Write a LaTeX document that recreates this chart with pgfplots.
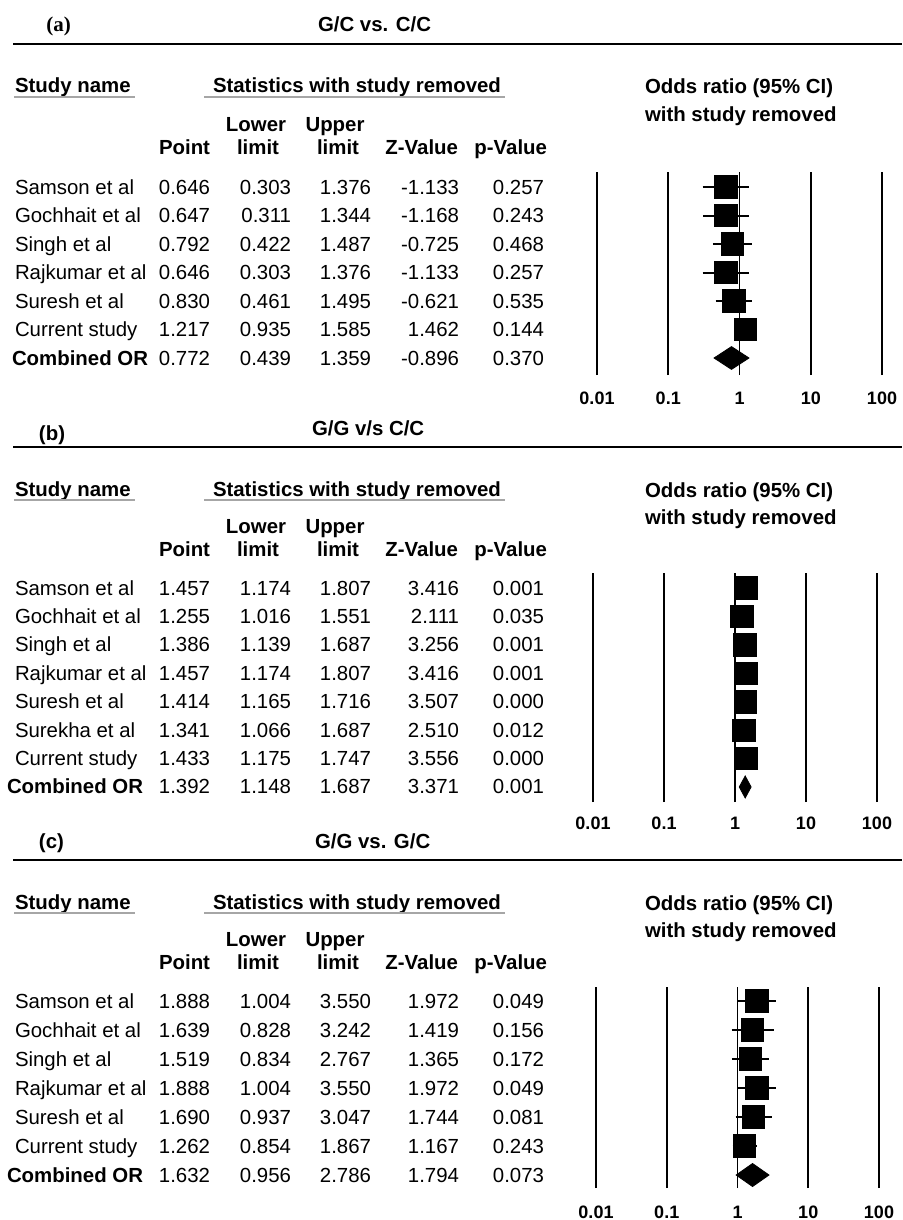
\documentclass[border=0pt]{standalone}
\usepackage{pgfplots}
\pgfplotsset{compat=1.18}
\usepackage{fontspec}
\setmainfont{Liberation Sans}
\newfontfamily\timesfont{Liberation Serif}
\newcommand\fs{\fontsize{10.2}{12}\selectfont}
\newcommand\tfs{\bfseries\fontsize{9}{10}\selectfont}
\tikzset{t/.style={inner sep=0pt, outer sep=0pt, font=\fs},
         tb/.style={inner sep=0pt, outer sep=0pt, font=\fs\bfseries}}
% y, xname, name, point, lower, upper, z, p
\newcommand\trow[8]{%
 \node[t,anchor=base west] at (#2,#1+7) {#3};
 \node[t,anchor=base east] at (210,#1+7) {#4};
 \node[t,anchor=base east] at (291,#1+7) {#5};
 \node[t,anchor=base east] at (371,#1+7) {#6};
 \node[t,anchor=base east] at (459,#1+7) {#7};
 \node[t,anchor=base east] at (544,#1+7) {#8};
}
% offset for rule/study-name line, offset for column headers
\newcommand\hdr[2]{%
 \draw[line width=1.2pt] (13,44+#1) -- (902,44+#1);
 \node[tb,anchor=base west] at (15,93+#1) {Study name};
 \draw[gray!70,line width=0.8pt] (14,97+#1) -- (135,97+#1);
 \node[tb,anchor=base west] at (213,93+#1) {Statistics with study removed};
 \draw[gray!70,line width=0.8pt] (204,97+#1) -- (505,97+#1);
 \node[tb,anchor=base west] at (645,94+#1) {Odds ratio (95\% CI)};
 \node[tb,anchor=base west] at (645,121+#1) {with study removed};
 \node[tb,anchor=base] at (256,132+#2) {Lower};
 \node[tb,anchor=base] at (335,132+#2) {Upper};
 \node[tb,anchor=base east] at (210,155+#2) {Point};
 \node[tb,anchor=base] at (258,155+#2) {limit};
 \node[tb,anchor=base] at (338,155+#2) {limit};
 \node[tb,anchor=base east] at (458,155+#2) {Z-Value};
 \node[tb,anchor=base east] at (547,155+#2) {p-Value};
}
\begin{document}
\begin{tikzpicture}[x=0.5pt,y=-0.5pt]
\useasboundingbox (0,0) rectangle (902,1220);

% ---------------- Panel (a)
\node[inner sep=0pt,anchor=base west,font=\timesfont\bfseries\fontsize{10.5}{12}\selectfont] at (46,32) {(a)};
\node[tb,anchor=base west] at (318,32) {G/C vs. C/C};
\hdr{0}{0}
\trow{187}{15}{Samson et al}{0.646}{0.303}{1.376}{-1.133}{0.257}
\trow{215.5}{15}{Gochhait et al}{0.647}{0.311}{1.344}{-1.168}{0.243}
\trow{244}{15}{Singh et al}{0.792}{0.422}{1.487}{-0.725}{0.468}
\trow{272.5}{15}{Rajkumar et al}{0.646}{0.303}{1.376}{-1.133}{0.257}
\trow{301}{15}{Suresh et al}{0.830}{0.461}{1.495}{-0.621}{0.535}
\trow{329.5}{15}{Current study}{1.217}{0.935}{1.585}{1.462}{0.144}
\trow{358}{12}{\bfseries Combined OR}{0.772}{0.439}{1.359}{-0.896}{0.370}

\begin{axis}[scale only axis, anchor=north west, xmode=log, xmin=0.01, xmax=100,
  axis line style={draw=none}, ytick=\empty, major tick length=0pt,
  xtick={0.01,0.1,10,100},
  xticklabels={\textbf{0.01},\textbf{0.1},\textbf{10},\textbf{100}},
  extra x ticks={1}, extra x tick labels={\textbf{1}},
  xmajorgrids, major grid style={black, line width=1.2pt},
  extra x tick style={grid=major, major grid style={black, line width=0.7pt}},
  clip=false,
  at={(298.5pt,-86pt)}, width=142.5pt, height=101.5pt,
  ymin=0.4035, ymax=7.5263,
  xticklabel style={font=\tfs, anchor=center, yshift=-11.5pt}]
\addplot[black, line width=1pt, no marks] coordinates {(0.303,7) (1.376,7)};
\addplot[black, line width=1pt, no marks] coordinates {(0.311,6) (1.344,6)};
\addplot[black, line width=1pt, no marks] coordinates {(0.422,5) (1.487,5)};
\addplot[black, line width=1pt, no marks] coordinates {(0.303,4) (1.376,4)};
\addplot[black, line width=1pt, no marks] coordinates {(0.461,3) (1.495,3)};
\addplot[black, line width=1pt, no marks] coordinates {(0.935,2) (1.585,2)};
\addplot[only marks, mark=square*, mark size=5.6pt, black, mark options={fill=black}] coordinates {(0.646,7) (0.647,6) (0.792,5) (0.646,4) (0.830,3) (1.217,2)};
\addplot[black, fill=black, no marks] coordinates {(0.439,1) (0.772,1.4) (1.359,1) (0.772,0.6)} -- cycle;
\end{axis}

% ---------------- Panel (b)
\node[tb,anchor=base west] at (39,440) {(b)};
\node[tb,anchor=base west] at (312,435) {G/G v/s C/C};
\hdr{403}{401}
\trow{588}{15}{Samson et al}{1.457}{1.174}{1.807}{3.416}{0.001}
\trow{616.4}{15}{Gochhait et al}{1.255}{1.016}{1.551}{2.111}{0.035}
\trow{644.8}{15}{Singh et al}{1.386}{1.139}{1.687}{3.256}{0.001}
\trow{673.2}{15}{Rajkumar et al}{1.457}{1.174}{1.807}{3.416}{0.001}
\trow{701.6}{15}{Suresh et al}{1.414}{1.165}{1.716}{3.507}{0.000}
\trow{730}{15}{Surekha et al}{1.341}{1.066}{1.687}{2.510}{0.012}
\trow{758.4}{15}{Current study}{1.433}{1.175}{1.747}{3.556}{0.000}
\trow{786.8}{7}{\bfseries Combined OR}{1.392}{1.148}{1.687}{3.371}{0.001}

\begin{axis}[scale only axis, anchor=north west, xmode=log, xmin=0.01, xmax=100,
  axis line style={draw=none}, ytick=\empty, major tick length=0pt,
  xtick={0.01,0.1,10,100},
  xticklabels={\textbf{0.01},\textbf{0.1},\textbf{10},\textbf{100}},
  extra x ticks={1}, extra x tick labels={\textbf{1}},
  xmajorgrids, major grid style={black, line width=1.2pt},
  extra x tick style={grid=major, major grid style={black, line width=0.7pt}},
  clip=false,
  at={(296.5pt,-286.5pt)}, width=142pt, height=114.5pt,
  ymin=0.4718, ymax=8.528,
  xticklabel style={font=\tfs, anchor=center, yshift=-10.5pt}]
\addplot[black, line width=1pt, no marks] coordinates {(1.174,8) (1.807,8)};
\addplot[black, line width=1pt, no marks] coordinates {(1.016,7) (1.551,7)};
\addplot[black, line width=1pt, no marks] coordinates {(1.139,6) (1.687,6)};
\addplot[black, line width=1pt, no marks] coordinates {(1.174,5) (1.807,5)};
\addplot[black, line width=1pt, no marks] coordinates {(1.165,4) (1.716,4)};
\addplot[black, line width=1pt, no marks] coordinates {(1.066,3) (1.687,3)};
\addplot[black, line width=1pt, no marks] coordinates {(1.175,2) (1.747,2)};
\addplot[only marks, mark=square*, mark size=5.6pt, black, mark options={fill=black}] coordinates {(1.457,8) (1.255,7) (1.386,6) (1.457,5) (1.414,4) (1.341,3) (1.433,2)};
\addplot[black, fill=black, no marks] coordinates {(1.148,1) (1.392,1.387) (1.687,1) (1.392,0.613)} -- cycle;
\end{axis}

% ---------------- Panel (c)
\node[tb,anchor=base west] at (39,848) {(c)};
\node[tb,anchor=base west] at (315,848) {G/G vs. G/C};
\hdr{816}{814}
\trow{1001}{15}{Samson et al}{1.888}{1.004}{3.550}{1.972}{0.049}
\trow{1030}{15}{Gochhait et al}{1.639}{0.828}{3.242}{1.419}{0.156}
\trow{1059}{15}{Singh et al}{1.519}{0.834}{2.767}{1.365}{0.172}
\trow{1088}{15}{Rajkumar et al}{1.888}{1.004}{3.550}{1.972}{0.049}
\trow{1117}{15}{Suresh et al}{1.690}{0.937}{3.047}{1.744}{0.081}
\trow{1146}{15}{Current study}{1.262}{0.854}{1.867}{1.167}{0.243}
\trow{1175}{7}{\bfseries Combined OR}{1.632}{0.956}{2.786}{1.794}{0.073}

\begin{axis}[scale only axis, anchor=north west, xmode=log, xmin=0.01, xmax=100,
  axis line style={draw=none}, ytick=\empty, major tick length=0pt,
  xtick={0.01,0.1,10,100},
  xticklabels={\textbf{0.01},\textbf{0.1},\textbf{10},\textbf{100}},
  extra x ticks={1}, extra x tick labels={\textbf{1}},
  xmajorgrids, major grid style={black, line width=1.2pt},
  extra x tick style={grid=major, major grid style={black, line width=0.7pt}},
  clip=false,
  at={(298pt,-493.5pt)}, width=141.5pt, height=100.5pt,
  ymin=0.5517, ymax=7.4828,
  xticklabel style={font=\tfs, anchor=center, yshift=-12pt}]
\addplot[black, line width=1pt, no marks] coordinates {(1.004,7) (3.550,7)};
\addplot[black, line width=1pt, no marks] coordinates {(0.828,6) (3.242,6)};
\addplot[black, line width=1pt, no marks] coordinates {(0.834,5) (2.767,5)};
\addplot[black, line width=1pt, no marks] coordinates {(1.004,4) (3.550,4)};
\addplot[black, line width=1pt, no marks] coordinates {(0.937,3) (3.047,3)};
\addplot[black, line width=1pt, no marks] coordinates {(0.854,2) (1.867,2)};
\addplot[only marks, mark=square*, mark size=5.6pt, black, mark options={fill=black}] coordinates {(1.888,7) (1.639,6) (1.519,5) (1.888,4) (1.690,3) (1.262,2)};
\addplot[black, fill=black, no marks] coordinates {(0.956,1) (1.632,1.397) (2.786,1) (1.632,0.603)} -- cycle;
\end{axis}
\end{tikzpicture}
\end{document}
